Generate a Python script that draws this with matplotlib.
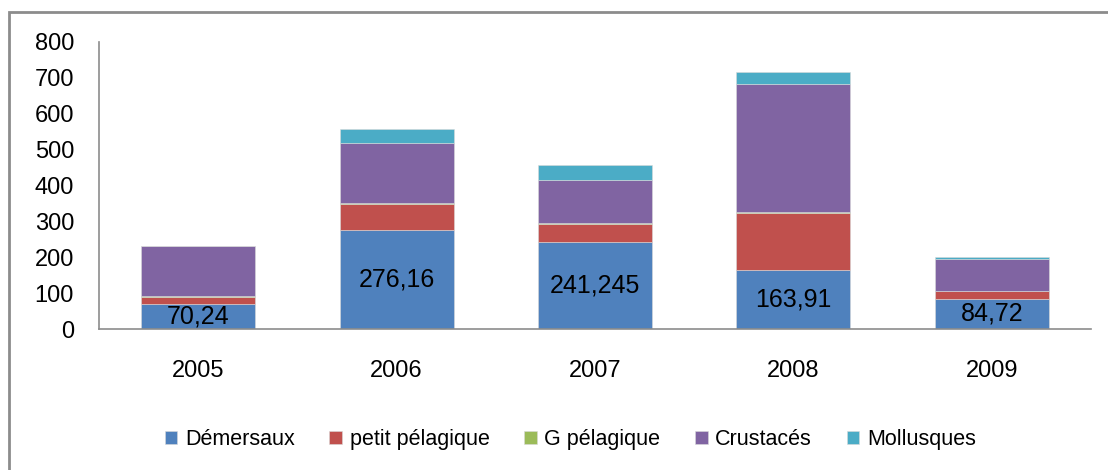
import matplotlib.pyplot as plt
from matplotlib.patches import Rectangle

plt.rcParams['font.family'] = ['Liberation Sans', 'DejaVu Sans']

annees = ['2005', '2006', '2007', '2008', '2009']
demersaux = [70.24, 276.16, 241.245, 163.91, 84.72]
petit_pelagique = [20, 72, 52, 160, 20]
g_pelagique = [1, 3, 2, 2, 1]
crustaces = [139, 168, 119, 356, 90]
mollusques = [1, 38, 44, 34, 5]
etiquettes = ['70,24', '276,16', '241,245', '163,91', '84,72']

series = [
    ('Démersaux', demersaux, '#4F81BD'),
    ('petit pélagique', petit_pelagique, '#C0504D'),
    ('G pélagique', g_pelagique, '#9BBB59'),
    ('Crustacés', crustaces, '#8064A2'),
    ('Mollusques', mollusques, '#4BACC6'),
]

fig = plt.figure(figsize=(11.08, 4.70), dpi=100)
ax = fig.add_axes([99 / 1108, (470 - 329) / 470, (1091 - 99) / 1108, (329 - 42) / 470])

# cadre gris autour du graphique
fig.patches.append(Rectangle((9 / 1108, -0.05), 1.2, (470 - 12) / 470 + 0.05,
                             transform=fig.transFigure, fill=False,
                             edgecolor='#8c8c8c', linewidth=2))

x = range(len(annees))
bas = [0] * len(annees)
barres_dem = None
for nom, vals, col in series:
    b = ax.bar(x, vals, 0.575, bottom=bas, color=col, label=nom,
               edgecolor='#d9d9d9', linewidth=0.4)
    if barres_dem is None:
        barres_dem = b
    bas = [a + v for a, v in zip(bas, vals)]

ax.bar_label(barres_dem, labels=etiquettes, label_type='center', fontsize=18)

ax.set_xlim(-0.5, 4.5)
ax.set_ylim(0, 800)
ax.set_xticks(list(x))
ax.set_xticklabels(annees)
ax.set_yticks(range(0, 801, 100))
ax.tick_params(axis='both', length=0, labelsize=17)
ax.tick_params(axis='x', pad=22)
ax.tick_params(axis='y', pad=18)
for s in ['top', 'right']:
    ax.spines[s].set_visible(False)
for s in ['left', 'bottom']:
    ax.spines[s].set_color('#8c8c8c')
    ax.spines[s].set_linewidth(1.2)

ax.legend(loc='center', bbox_to_anchor=(0.475, -0.385), ncol=5, frameon=False,
          fontsize=15.5, handlelength=0.6, handleheight=0.6, handletextpad=0.35,
          columnspacing=1.6)

fig.savefig('out.png', dpi=100)
